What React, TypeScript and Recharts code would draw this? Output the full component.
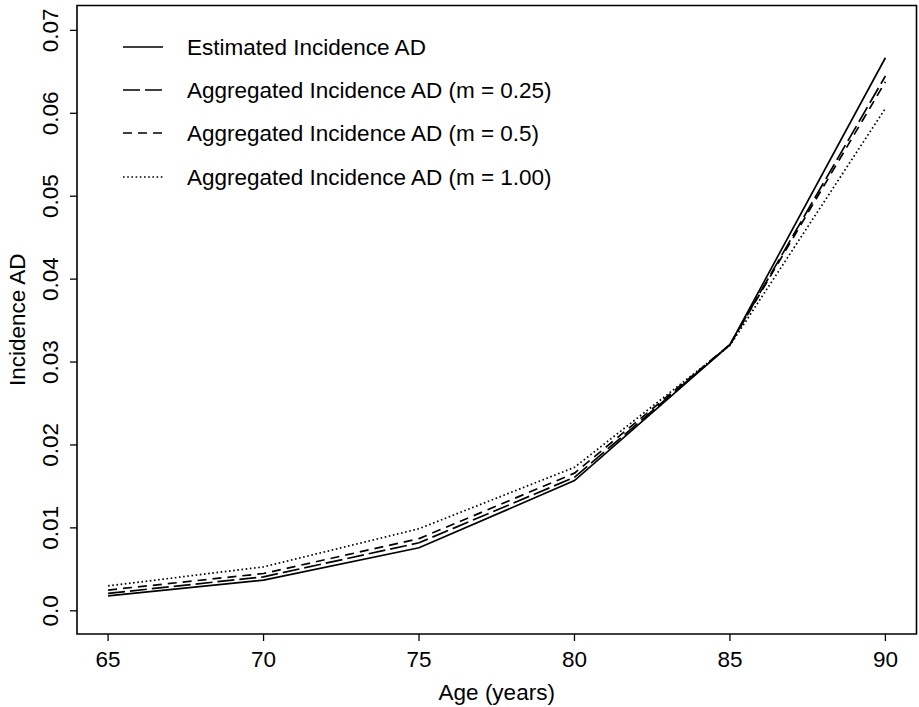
import React from 'react';
import { LineChart, Line, XAxis, YAxis, ReferenceArea } from 'recharts';

// ---- data ----
const ages = [65, 70, 75, 80, 85, 90];
const estimatedAD = [0.0018, 0.0037, 0.0076, 0.0157, 0.0321, 0.0667];
const aggregated025 = [0.0021, 0.0041, 0.0082, 0.0161, 0.0321, 0.0645];
const aggregated05 = [0.0025, 0.0045, 0.0087, 0.0166, 0.0321, 0.0638];
const aggregated100 = [0.003, 0.0053, 0.0099, 0.0173, 0.032, 0.0606];

const xTicks = [65, 70, 75, 80, 85, 90];
const yTicks = [0, 0.01, 0.02, 0.03, 0.04, 0.05, 0.06, 0.07];
const yTickLabels = ['0.0', '0.01', '0.02', '0.03', '0.04', '0.05', '0.06', '0.07'];

const seriesNames = [
  'Estimated Incidence AD',
  'Aggregated Incidence AD (m = 0.25)',
  'Aggregated Incidence AD (m = 0.5)',
  'Aggregated Incidence AD (m = 1.00)',
];

const data = ages.map((age, i) => ({
  age,
  est: estimatedAD[i],
  a025: aggregated025[i],
  a05: aggregated05[i],
  a100: aggregated100[i],
}));

// ---- styling ----
const FONT = '"Liberation Sans", Arial, Helvetica, sans-serif';
const FS = 22.5;
const X_DOMAIN: [number, number] = [64, 91];
const Y_DOMAIN: [number, number] = [-0.0028, 0.073];

const seriesStyle = [
  { key: 'est', dash: undefined as string | undefined, width: 1.7 },
  { key: 'a025', dash: '17 5', width: 1.7 },
  { key: 'a05', dash: '9 6', width: 1.7 },
  { key: 'a100', dash: '1.6 2.6', width: 1.7 },
];

const XTick = (props: any) => {
  const { x, y, payload } = props;
  return (
    <text x={x} y={y + 26} textAnchor="middle" fontFamily={FONT} fontSize={FS} fill="#000">
      {payload.value}
    </text>
  );
};

const YTick = (props: any) => {
  const { y, payload } = props;
  const idx = yTicks.indexOf(payload.value);
  const label = idx >= 0 ? yTickLabels[idx] : String(payload.value);
  const bx = 58;
  return (
    <text
      x={bx}
      y={y}
      transform={`rotate(-90, ${bx}, ${y})`}
      textAnchor="middle"
      fontFamily={FONT}
      fontSize={FS}
      fill="#000"
    >
      {label}
    </text>
  );
};

const XTitle = (props: any) => {
  const vb = props.viewBox || {};
  const cx = vb.x + vb.width / 2;
  return (
    <text x={cx} y={vb.y + 66} textAnchor="middle" fontFamily={FONT} fontSize={FS} fill="#000">
      Age (years)
    </text>
  );
};

const YTitle = (props: any) => {
  const vb = props.viewBox || {};
  const cy = vb.y + vb.height / 2;
  const bx = 25;
  return (
    <text
      x={bx}
      y={cy}
      transform={`rotate(-90, ${bx}, ${cy})`}
      textAnchor="middle"
      fontFamily={FONT}
      fontSize={FS}
      fill="#000"
    >
      Incidence AD
    </text>
  );
};

const LegendBox = () => {
  const rowY = [47, 90, 133, 177];
  return (
    <svg
      width={650}
      height={200}
      style={{ position: 'absolute', left: 0, top: 0, pointerEvents: 'none' }}
    >
      {seriesNames.map((name, i) => (
        <g key={name}>
          <line
            x1={123}
            x2={163}
            y1={rowY[i]}
            y2={rowY[i]}
            stroke="#000"
            strokeWidth={seriesStyle[i].width}
            strokeDasharray={seriesStyle[i].dash}
          />
          <text
            x={187}
            y={rowY[i]}
            dy="0.36em"
            fontFamily={FONT}
            fontSize={FS}
            fill="#000"
          >
            {name}
          </text>
        </g>
      ))}
    </svg>
  );
};

export default function App() {
  return (
    <div style={{ position: 'absolute', left: 0, top: 0, width: 919, height: 707, background: '#fff' }}>
      <LineChart
        width={919}
        height={707}
        data={data}
        margin={{ top: 5.5, right: 2.5, left: 0, bottom: 0 }}
      >
        <XAxis
          dataKey="age"
          type="number"
          domain={X_DOMAIN}
          ticks={xTicks}
          allowDataOverflow
          axisLine={false}
          tickLine={{ stroke: '#000', strokeWidth: 1.3 }}
          tickSize={7}
          tickMargin={0}
          height={73}
          tick={<XTick />}
          label={<XTitle />}
        />
        <YAxis
          type="number"
          domain={Y_DOMAIN}
          ticks={yTicks}
          allowDataOverflow
          axisLine={false}
          tickLine={{ stroke: '#000', strokeWidth: 1.3 }}
          tickSize={7}
          tickMargin={0}
          width={77}
          tick={<YTick />}
          label={<YTitle />}
        />
        <ReferenceArea
          x1={X_DOMAIN[0]}
          x2={X_DOMAIN[1]}
          y1={Y_DOMAIN[0]}
          y2={Y_DOMAIN[1]}
          fill="none"
          fillOpacity={0}
          stroke="#000"
          strokeWidth={1.6}
          ifOverflow="visible"
        />
        {seriesStyle.map((s, i) => (
          <Line
            key={s.key}
            type="linear"
            dataKey={s.key}
            name={seriesNames[i]}
            stroke="#000"
            strokeWidth={s.width}
            strokeDasharray={s.dash}
            dot={false}
            activeDot={false}
            isAnimationActive={false}
          />
        ))}
      </LineChart>
      <LegendBox />
    </div>
  );
}
